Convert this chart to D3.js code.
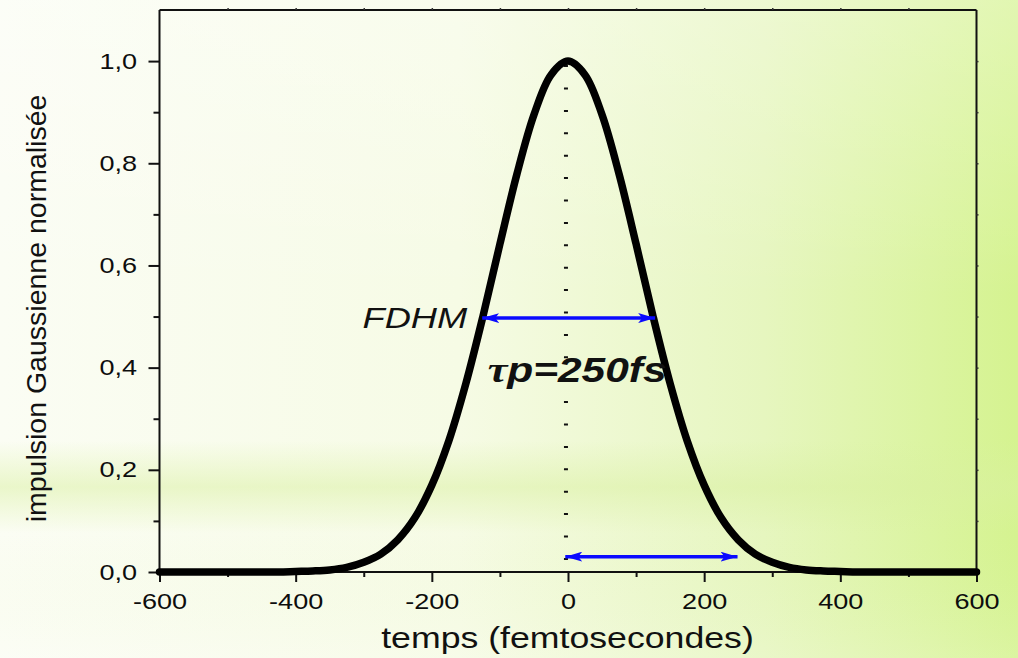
<!DOCTYPE html>
<html>
<head>
<meta charset="utf-8">
<script src="https://cdn.jsdelivr.net/npm/d3@7"></script>
<style>
  html, body { margin: 0; padding: 0; }
  body { width: 1018px; height: 658px; overflow: hidden; }
  svg { display: block; font-family: Arial, "Liberation Sans", sans-serif; }
</style>
</head>
<body>
<svg id="chart" width="1018" height="658"></svg>
<script>
// ---- data ----
const times = [-600,-575,-550,-525,-500,-475,-450,-425,-400,-375,-350,-325,-300,-275,-250,-225,-200,-175,-150,-125,-100,-75,-50,-25,0,
               25,50,75,100,125,150,175,200,225,250,275,300,325,350,375,400,425,450,475,500,525,550,575,600];
const intensity = [0,0,0,0,0,0,0,0,0.001,0.002,0.004,0.009,0.019,0.035,0.063,0.106,0.170,0.257,0.369,0.500,0.642,0.779,0.895,0.973,1.000,
                   0.973,0.895,0.779,0.642,0.500,0.369,0.257,0.170,0.106,0.063,0.035,0.019,0.009,0.004,0.002,0.001,0,0,0,0,0,0,0,0];
const xDomain = [-600, 600];
const yDomain = [0, 1.1];
const xMajorTicks = [-600, -400, -200, 0, 200, 400, 600];
const xMinorTicks = [-500, -300, -100, 100, 300, 500];
const yMajorTicks = [0, 0.2, 0.4, 0.6, 0.8, 1.0];
const yMinorTicks = [0.1, 0.3, 0.5, 0.7, 0.9];
const topTicks = [-500, -400, -300, -200, -100, 0, 100, 200, 300, 400, 500];
const rightTicks = [0.1, 0.2, 0.3, 0.4, 0.5, 0.6, 0.7, 0.8, 0.9, 1.0];
const dotLine = [-3, 1.0, 0];            // x, y from, y to
const arrowFDHM = [-126, 128, 0.497];     // x1, x2, y
const arrowTau = [-4, 249, 0.030];        // x1, x2, y
const labelFDHM = [-148, 0.477];
const labelTau = [-118, 0.372];
const xTitle = "temps (femtosecondes)";
const yTitle = "impulsion Gaussienne normalisée";

// ---- layout ----
const svg = d3.select("#chart");
const W = 1018, H = 658;
const pLeft = 159.5, pRight = 976.5, pTop = 10, pBottom = 572;
const sx = 1.23; // horizontal stretch of glyphs in the reference

const x = d3.scaleLinear().domain(xDomain).range([pLeft, pRight]);
const y = d3.scaleLinear().domain(yDomain).range([pBottom, pTop]);

// background
const defs = svg.append("defs");
const g1 = defs.append("linearGradient").attr("id", "bgH").attr("x1", 0).attr("x2", 1).attr("y1", 0).attr("y2", 0);
g1.append("stop").attr("offset", "0%").attr("stop-color", "#fbfdf4");
g1.append("stop").attr("offset", "45%").attr("stop-color", "#f6fbe5");
g1.append("stop").attr("offset", "75%").attr("stop-color", "#e6f6bf");
g1.append("stop").attr("offset", "100%").attr("stop-color", "#d5f390");
const g2 = defs.append("linearGradient").attr("id", "bgV").attr("x1", 0).attr("x2", 0).attr("y1", 0).attr("y2", 1);
g2.append("stop").attr("offset", "0%").attr("stop-color", "#ffffff").attr("stop-opacity", 0.3);
g2.append("stop").attr("offset", "45%").attr("stop-color", "#ffffff").attr("stop-opacity", 0.0);
g2.append("stop").attr("offset", "67%").attr("stop-color", "#d9f0a0").attr("stop-opacity", 0.0);
g2.append("stop").attr("offset", "74%").attr("stop-color", "#d9f0a0").attr("stop-opacity", 0.5);
g2.append("stop").attr("offset", "81%").attr("stop-color", "#d9f0a0").attr("stop-opacity", 0.0);
g2.append("stop").attr("offset", "100%").attr("stop-color", "#ffffff").attr("stop-opacity", 0.15);
svg.append("rect").attr("width", W).attr("height", H).attr("fill", "url(#bgH)");
svg.append("rect").attr("width", W).attr("height", H).attr("fill", "url(#bgV)");

// arrow marker
defs.append("marker").attr("id", "ah")
  .attr("viewBox", "0 0 17 10").attr("refX", 17).attr("refY", 5)
  .attr("markerWidth", 17).attr("markerHeight", 10)
  .attr("markerUnits", "userSpaceOnUse").attr("orient", "auto-start-reverse")
  .append("path").attr("d", "M0,0 L17,5 L0,10 L4,5 Z").attr("fill", "#0a0aff");

// frame (top, right)
svg.append("line").attr("x1", pLeft).attr("x2", pRight).attr("y1", pTop).attr("y2", pTop)
  .attr("stroke", "#111").attr("stroke-width", 2);
svg.append("line").attr("x1", pRight).attr("x2", pRight).attr("y1", pTop).attr("y2", pBottom)
  .attr("stroke", "#111").attr("stroke-width", 2);

// top / right small ticks
const topAx = svg.append("g").attr("transform", `translate(0,${pTop})`)
  .call(d3.axisTop(x).tickValues(topTicks).tickSize(2).tickFormat(""));
const rightAx = svg.append("g").attr("transform", `translate(${pRight},0)`)
  .call(d3.axisRight(y).tickValues(rightTicks).tickSize(2).tickFormat(""));
[topAx, rightAx].forEach(a => {
  a.select(".domain").remove();
  a.selectAll("line").attr("stroke", "#333").attr("stroke-width", 1.5);
});

// bottom axis
const xMinor = svg.append("g").attr("transform", `translate(0,${pBottom})`)
  .call(d3.axisBottom(x).tickValues(xMinorTicks).tickSize(5).tickFormat(""));
xMinor.select(".domain").remove();
const xAx = svg.append("g").attr("transform", `translate(0,${pBottom})`)
  .call(d3.axisBottom(x).tickValues(xMajorTicks).tickSize(10).tickPadding(11).tickSizeOuter(0)
        .tickFormat(d => String(d)));
// left axis
const yMinor = svg.append("g").attr("transform", `translate(${pLeft},0)`)
  .call(d3.axisLeft(y).tickValues(yMinorTicks).tickSize(6).tickFormat(""));
yMinor.select(".domain").remove();
const yAx = svg.append("g").attr("transform", `translate(${pLeft},0)`)
  .call(d3.axisLeft(y).tickValues(yMajorTicks).tickSize(11).tickPadding(11).tickSizeOuter(0)
        .tickFormat(d => d3.format(".1f")(d).replace(".", ",")));

[xMinor, xAx, yMinor, yAx].forEach(a => {
  a.selectAll("line").attr("stroke", "#111").attr("stroke-width", 2);
  a.select(".domain").attr("stroke", "#111").attr("stroke-width", 2);
  a.selectAll("text").attr("fill", "#0d0d0d").style("font-size", "22px")
    .style("font-family", "Arial, 'Liberation Sans', sans-serif");
});
xAx.select(".domain").attr("d", `M${pLeft},0H${pRight}`);
yAx.select(".domain").attr("d", `M0,${pBottom}V${pTop}`);
xAx.selectAll("text").attr("transform", `scale(${sx},1)`);
yAx.selectAll("text").attr("x", -22.5 / sx).attr("transform", `scale(${sx},1)`);

// dotted vertical line
svg.append("line")
  .attr("x1", x(dotLine[0])).attr("x2", x(dotLine[0]))
  .attr("y1", y(dotLine[1])).attr("y2", y(dotLine[2]))
  .attr("stroke", "#111").attr("stroke-width", 4)
  .attr("stroke-dasharray", "2,20.4").attr("stroke-dashoffset", -4);

// gaussian curve
const pts = times.map((t, i) => [t, intensity[i]]);
svg.append("path").datum(pts)
  .attr("d", d3.line().x(d => x(d[0])).y(d => y(d[1])).curve(d3.curveCatmullRom.alpha(0.5)))
  .attr("fill", "none").attr("stroke", "#000").attr("stroke-width", 7.5)
  .attr("stroke-linejoin", "round").attr("stroke-linecap", "round");

// arrows
[arrowFDHM, arrowTau].forEach(a => {
  svg.append("line")
    .attr("x1", x(a[0])).attr("x2", x(a[1])).attr("y1", y(a[2])).attr("y2", y(a[2]))
    .attr("stroke", "#0a0aff").attr("stroke-width", 3.5)
    .attr("marker-start", "url(#ah)").attr("marker-end", "url(#ah)");
});

// annotation texts
svg.append("text")
  .attr("transform", `translate(${x(labelFDHM[0])},${y(labelFDHM[1])}) scale(${sx},1)`)
  .attr("text-anchor", "end").attr("font-style", "italic").attr("font-size", 29.5)
  .attr("fill", "#111").text("FDHM");

const tau = svg.append("text")
  .attr("transform", `translate(${x(labelTau[0])},${y(labelTau[1])}) scale(${sx},1)`)
  .attr("font-size", 34.5).attr("fill", "#111");
tau.append("tspan").attr("font-family", "'Liberation Serif', 'Times New Roman', serif")
  .attr("font-style", "italic").attr("font-weight", "bold").attr("font-size", 36).text("τ");
tau.append("tspan").attr("font-style", "italic").attr("font-weight", "bold").text("p=250fs");

// axis titles
svg.append("text")
  .attr("transform", `translate(${(pLeft + pRight) / 2 - 0.5},648) scale(${sx},1)`)
  .attr("text-anchor", "middle").attr("font-size", 29).attr("fill", "#111").text(xTitle);
svg.append("text")
  .attr("transform", `translate(46,${(95 + 522) / 2}) rotate(-90)`)
  .attr("text-anchor", "middle").attr("font-size", 28.5).attr("fill", "#111").text(yTitle);
</script>
</body>
</html>
